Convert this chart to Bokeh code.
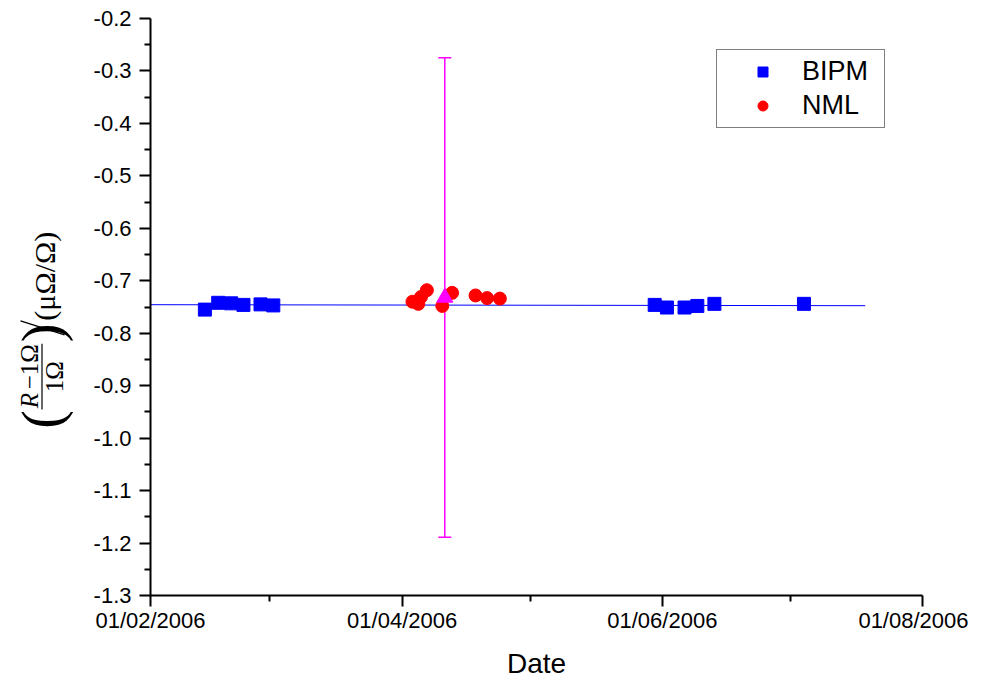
import numpy as np
import pandas as pd
from bokeh.plotting import figure
from bokeh.models import (Range1d, FixedTicker, DatetimeTickFormatter, PrintfTickFormatter,
                          Legend, LegendItem, Whisker, ColumnDataSource, TeeHead)
from bokeh.layouts import row
from bokeh.embed import file_html
from bokeh.resources import INLINE
from bokeh.core.properties import value

# ---------------- data ----------------
bipm_dates = ["2006-02-13 18:00", "2006-02-16 21:00", "2006-02-19 22:00", "2006-02-22 19:00",
              "2006-02-26 19:00", "2006-03-01 19:00", "2006-05-30 05:00", "2006-06-02 02:00",
              "2006-06-06 05:00", "2006-06-09 05:00", "2006-06-13 05:00", "2006-07-04 05:00"]
bipm_values = [-0.755, -0.742, -0.743, -0.746, -0.745, -0.747,
               -0.746, -0.751, -0.751, -0.748, -0.744, -0.744]

nml_dates = ["2006-04-03 10:00", "2006-04-04 19:00", "2006-04-05 10:00", "2006-04-06 19:00",
             "2006-04-10 10:00", "2006-04-12 17:00", "2006-04-18 05:00", "2006-04-20 22:00",
             "2006-04-23 22:00"]
nml_values = [-0.740, -0.744, -0.731, -0.718, -0.748, -0.723, -0.728, -0.733, -0.734]

mean_dates = ["2006-04-11 00:00"]
mean_values = [-0.732]
mean_uncert = [0.457]

fit_dates = ["2006-02-01 00:00", "2006-07-18 14:00"]
fit_values = [-0.7456, -0.7475]

x_major_ticks = ["2006-02-01", "2006-04-01", "2006-06-01", "2006-08-01"]
x_minor_ticks = ["2006-03-01", "2006-05-01", "2006-07-01"]
y_major_ticks = [-1.3, -1.2, -1.1, -1.0, -0.9, -0.8, -0.7, -0.6, -0.5, -0.4, -0.3, -0.2]
y_minor_ticks = [-1.25, -1.15, -1.05, -0.95, -0.85, -0.75, -0.65, -0.55, -0.45, -0.35, -0.25]


def ms(lst):
    return [float(v) for v in (pd.to_datetime(lst).astype("int64") // 10**6)]


H = 681
TOP, BOT = 18, 598          # frame top / bottom (canvas px)
LW = 88                     # width of the label panel

# ---------------- y label panel (frame is aligned with the main frame) ----------------
lab = figure(width=LW, height=H, x_range=Range1d(0, LW), y_range=Range1d(0, BOT - TOP),
             output_backend="svg", toolbar_location=None,
             x_axis_location=None, y_axis_location=None, min_border=0,
             min_border_top=TOP, min_border_bottom=H - BOT)
lab.outline_line_color = None
lab.grid.visible = False


def X(rx):
    return rx


def Y(ry):
    return BOT - ry


serif = value("Liberation Serif")
ang = np.pi / 2
common = dict(angle=ang, text_font=serif, text_align="center", text_baseline="middle",
              text_color="black")
lab.text(x=[X(44)], y=[Y(277)], text=["(μΩ/Ω)"], text_font_size="30px", **common)
lab.segment(x0=[X(64)], y0=[Y(336)], x1=[X(20)], y1=[Y(322)], line_color="black", line_width=1.3)
lab.text(x=[X(41), X(41)], y=[Y(421), Y(334)], text=["(", ")"], text_font_size="56px", **common)
lab.text(x=[X(29)], y=[Y(402)], text=["R"], text_font_style="italic", text_font_size="25px", **common)
lab.text(x=[X(29)], y=[Y(368)], text=["−1Ω"], text_font_size="25px", **common)
lab.segment(x0=[X(41.5)], y0=[Y(345)], x1=[X(41.5)], y1=[Y(411)], line_color="black", line_width=1.2)
lab.text(x=[X(54)], y=[Y(378)], text=["1Ω"], text_font_size="25px", **common)

# ---------------- main plot ----------------
p = figure(width=880, height=H, x_axis_type="datetime",
           x_range=Range1d(pd.Timestamp("2006-02-01"), pd.Timestamp("2006-08-01")),
           y_range=Range1d(-1.3, -0.2),
           output_backend="svg", toolbar_location=None,
           min_border_left=62, min_border_right=46, min_border_top=TOP, min_border_bottom=H - BOT)
p.outline_line_color = None
p.grid.visible = False
p.background_fill_color = "white"

for ax in (p.xaxis[0], p.yaxis[0]):
    ax.axis_line_width = 2
    ax.axis_line_color = "black"
    ax.major_tick_line_width = 2
    ax.minor_tick_line_width = 2
    ax.major_tick_line_color = "black"
    ax.minor_tick_line_color = "black"
    ax.major_tick_in = 0
    ax.minor_tick_in = 0
    ax.major_tick_out = 11
    ax.minor_tick_out = 6
    ax.major_label_text_font = "Liberation Sans"
    ax.major_label_text_font_size = "22px"
    ax.major_label_text_color = "black"

p.xaxis.ticker = FixedTicker(ticks=ms(x_major_ticks), minor_ticks=ms(x_minor_ticks))
fmt = "%d/%m/%Y"
p.xaxis.formatter = DatetimeTickFormatter(milliseconds=fmt, seconds=fmt, minsec=fmt, minutes=fmt,
                                          hourmin=fmt, hours=fmt, days=fmt, months=fmt, years=fmt)
p.xaxis.major_label_standoff = 1
p.xaxis.axis_label = "Date"
p.xaxis.axis_label_text_font = "Liberation Sans"
p.xaxis.axis_label_text_font_size = "28px"
p.xaxis.axis_label_text_font_style = "normal"
p.xaxis.axis_label_text_color = "black"
p.xaxis.axis_label_standoff = 12

p.yaxis.ticker = FixedTicker(ticks=y_major_ticks, minor_ticks=y_minor_ticks)
p.yaxis.formatter = PrintfTickFormatter(format="%.1f")
p.yaxis.major_label_standoff = 8

fit = p.line(x=pd.to_datetime(fit_dates), y=fit_values, line_color="#0000ff", line_width=1)

src_mean = ColumnDataSource(dict(x=pd.to_datetime(mean_dates), y=mean_values,
                                 upper=[m + u for m, u in zip(mean_values, mean_uncert)],
                                 lower=[m - u for m, u in zip(mean_values, mean_uncert)]))
wh = Whisker(base="x", upper="upper", lower="lower", source=src_mean,
             line_color="#ff00ff", line_width=1.5,
             upper_head=TeeHead(size=13, line_color="#ff00ff", line_width=1.5),
             lower_head=TeeHead(size=13, line_color="#ff00ff", line_width=1.5))
p.add_layout(wh)

nml = p.scatter(x=pd.to_datetime(nml_dates), y=nml_values, marker="circle", size=13,
                fill_color="#ff0000", line_color="#ff0000")
bipm = p.scatter(x=pd.to_datetime(bipm_dates), y=bipm_values, marker="square", size=13,
                 fill_color="#0000ff", line_color="#0000ff")
p.scatter(x="x", y="y", source=src_mean, marker="triangle", size=16,
          fill_color="#ff00ff", line_color="#ff00ff")

legend = Legend(items=[LegendItem(label="BIPM", renderers=[bipm]),
                       LegendItem(label="NML", renderers=[nml])],
                location=(566, 467))
legend.border_line_color = "black"
legend.border_line_width = 1
legend.background_fill_color = "white"
legend.background_fill_alpha = 1
legend.label_text_font = "Liberation Sans"
legend.label_text_font_size = "27px"
legend.label_text_color = "black"
legend.glyph_width = 79
legend.glyph_height = 25
legend.label_standoff = 0
legend.label_width = 76
legend.padding = 6
legend.spacing = 3
legend.margin = 0
p.add_layout(legend)

layout = row(lab, p, spacing=0)
open("out.html", "w").write(file_html(layout, INLINE))
